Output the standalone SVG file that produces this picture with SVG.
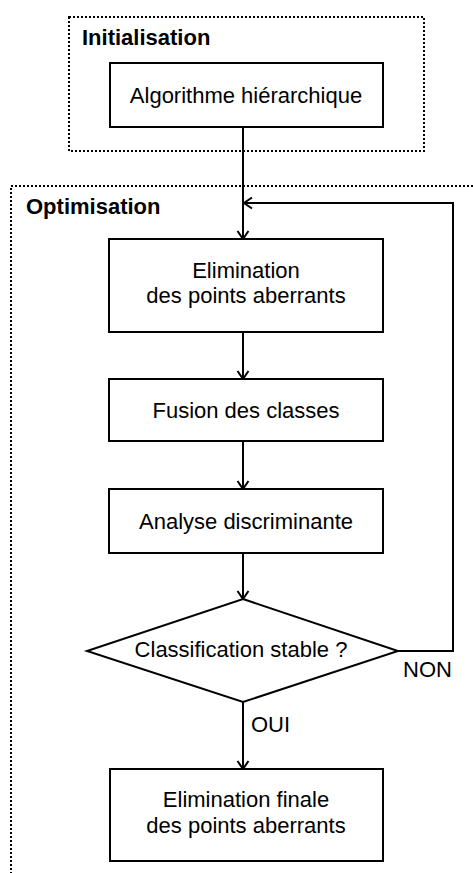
<svg xmlns="http://www.w3.org/2000/svg" width="473" height="873" viewBox="0 0 473 873">
<style>
text{font-family:"Liberation Sans",Arial,sans-serif;font-size:22px;fill:#000}
.t{font-weight:bold}
.c{text-anchor:middle}
.box{fill:#fff;stroke:#000;stroke-width:2}
.grp{fill:none;stroke:#000;stroke-width:2;stroke-dasharray:2 2}
.ln{fill:none;stroke:#000;stroke-width:2}
</style>
<defs>
<marker id="arr" markerUnits="userSpaceOnUse" markerWidth="14" markerHeight="14" refX="10" refY="7" orient="auto">
<path d="M2,1.5 L10,7 L2,12.5" fill="none" stroke="#000" stroke-width="2"/>
</marker>
</defs>
<rect id="grp-init" class="grp" x="69" y="17" width="355" height="134"/>
<text class="t" x="82" y="45">Initialisation</text>
<rect id="grp-opt" class="grp" x="11" y="186" width="480" height="720"/>
<text class="t" x="26" y="214">Optimisation</text>
<g id="connectors">
<path class="ln" d="M243,127 V239" marker-end="url(#arr)"/>
<path class="ln" d="M243,332 V379" marker-end="url(#arr)"/>
<path class="ln" d="M243,441 V489" marker-end="url(#arr)"/>
<path class="ln" d="M243,553 V599" marker-end="url(#arr)"/>
<path class="ln" d="M243,702 V769" marker-end="url(#arr)"/>
<path class="ln" d="M398,651 H453 V203 H244" marker-end="url(#arr)"/>
<text x="403" y="677">NON</text>
<text x="251" y="732">OUI</text>
</g>
<g id="n-algo">
<rect class="box" x="110" y="63" width="273" height="64"/>
<text class="c" x="246" y="103">Algorithme hiérarchique</text>
</g>
<g id="n-elim">
<rect class="box" x="109" y="239" width="274" height="93"/>
<text class="c" x="246" y="278">Elimination</text>
<text class="c" x="246" y="303">des points aberrants</text>
</g>
<g id="n-fusion">
<rect class="box" x="109" y="379" width="274" height="62"/>
<text class="c" x="246" y="418">Fusion des classes</text>
</g>
<g id="n-analyse">
<rect class="box" x="109" y="489" width="274" height="64"/>
<text class="c" x="246" y="529">Analyse discriminante</text>
</g>
<g id="n-decision">
<polygon class="box" points="243,599 398,651 243,702 87,651"/>
<text class="c" x="241" y="657">Classification stable ?</text>
</g>
<g id="n-final">
<rect class="box" x="110" y="769" width="273" height="92"/>
<text class="c" x="246" y="807">Elimination finale</text>
<text class="c" x="246" y="833">des points aberrants</text>
</g>
</svg>
